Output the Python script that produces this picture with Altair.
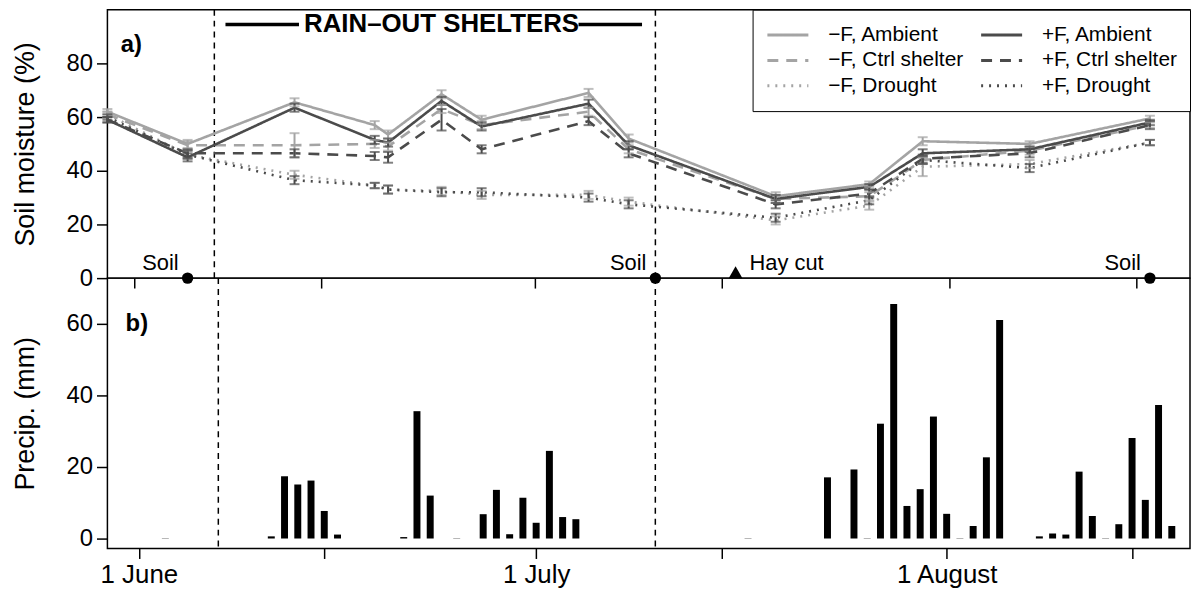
import altair as alt
import pandas as pd

FONT = "Liberation Sans"

# ---------------- soil moisture (panel a) ----------------
sm_dates = ["2011-05-30", "2011-06-05", "2011-06-13", "2011-06-19", "2011-06-20",
            "2011-06-24", "2011-06-27", "2011-07-05", "2011-07-08", "2011-07-19",
            "2011-07-26", "2011-07-30", "2011-08-07", "2011-08-16"]

# legend fills column by column: first column = −F, second = +F
series_labels = ["−F, Ambient", "−F, Ctrl shelter", "−F, Drought",
                 "+F, Ambient", "+F, Ctrl shelter", "+F, Drought"]
series_colors = ["#a4a4a4", "#a4a4a4", "#a4a4a4", "#4b4b4b", "#4b4b4b", "#4b4b4b"]
series_dash = [[1, 0], [11, 8], [2, 6], [1, 0], [11, 8], [2, 6]]

mF_ambient = [62, 50, 65.5, 57, 53.5, 68.5, 59, 69, 52, 30.5, 35, 51, 50, 59.5]
mF_ctrl = [61, 49.5, 49.5, 50, 49, 63, 57, 62, 48, 29.5, 30.5, 44, 47.5, 57]
mF_drought = [61, 46, 38.5, 34.5, 33, 32.5, 31, 31, 28.5, 21.5, 27, 41.5, 42.5, 50.5]
pF_ambient = [59, 45, 63.5, 51.5, 50.5, 66, 56.5, 65, 49.5, 29.5, 34, 46.5, 48, 58]
pF_ctrl = [59, 46.5, 46.5, 45.5, 45, 59, 48, 58.5, 46.5, 27.5, 31.5, 44.5, 46.5, 57]
pF_drought = [60, 46, 36.5, 34.5, 33, 32, 32, 30, 27.5, 22.5, 29, 44, 41, 50.5]

mF_ambient_se = [1, 1.5, 1.5, 1.5, 1.5, 1.5, 1.5, 1.5, 1.5, 1.5, 1, 1.5, 1, 1]
mF_ctrl_se = [1, 1.5, 4.5, 1.5, 1.5, 1.5, 1.5, 1.5, 1.5, 1.5, 1.5, 1.5, 1.5, 1]
mF_drought_se = [1, 1.5, 1.5, 1, 1.5, 1.5, 1.5, 1.5, 1.5, 1.5, 1.5, 3.5, 1.5, 1]
pF_ambient_se = [1, 1.5, 1.5, 1.5, 1.5, 1.5, 1.5, 1.5, 1.5, 1.5, 1, 1.5, 1, 1]
pF_ctrl_se = [1, 1.5, 1.5, 1.5, 2, 4, 1.5, 1.5, 1.5, 1.5, 1.5, 1.5, 1.5, 1.5]
pF_drought_se = [1, 1.5, 1.5, 1, 1.5, 1.5, 1.5, 1.5, 1.5, 1.5, 1.5, 1.5, 1.5, 1]

series_values = [mF_ambient, mF_ctrl, mF_drought, pF_ambient, pF_ctrl, pF_drought]
series_se = [mF_ambient_se, mF_ctrl_se, mF_drought_se, pF_ambient_se, pF_ctrl_se, pF_drought_se]

# ---------------- precipitation (panel b) ----------------
precip_dates = ["2011-06-11", "2011-06-12", "2011-06-13", "2011-06-14", "2011-06-15",
                "2011-06-16", "2011-06-21", "2011-06-22", "2011-06-23", "2011-06-27",
                "2011-06-28", "2011-06-29", "2011-06-30", "2011-07-01", "2011-07-02",
                "2011-07-03", "2011-07-04", "2011-07-23", "2011-07-25", "2011-07-27",
                "2011-07-28", "2011-07-29", "2011-07-30", "2011-07-31", "2011-08-01",
                "2011-08-03", "2011-08-04", "2011-08-05", "2011-08-08", "2011-08-09",
                "2011-08-10", "2011-08-11", "2011-08-12", "2011-08-14", "2011-08-15",
                "2011-08-16", "2011-08-17", "2011-08-18"]
precip_mm = [0.6, 17.4, 15.1, 16.2, 7.7, 1.1, 0.4, 35.6, 12.0, 6.8,
             13.6, 1.2, 11.4, 4.4, 24.5, 6.0, 5.4, 17.1, 19.3, 32.1,
             65.6, 9.1, 13.8, 34.1, 6.9, 3.5, 22.7, 61.1, 0.6, 1.4,
             1.1, 18.7, 6.3, 4.0, 28.1, 10.8, 37.3, 3.5]
zero_rain_dates = ["2011-06-03", "2011-06-25", "2011-07-17", "2011-07-26",
                   "2011-08-02", "2011-08-13"]

# ---------------- annotations ----------------
shelter_dates = ["2011-06-07", "2011-07-10"]
shelter_text = ["RAIN–OUT SHELTERS"]
shelter_text_date = ["2011-06-24"]
shelter_line_start = ["2011-06-07 20:00", "2011-07-04 06:00"]
shelter_line_end = ["2011-06-13 08:00", "2011-07-09 00:00"]
shelter_y = 94.5
soil_dates = ["2011-06-05", "2011-07-10", "2011-08-16"]
soil_labels = ["Soil", "Soil", "Soil"]
haycut_dates = ["2011-07-16"]
haycut_labels = ["Hay cut"]
event_label_y = 5.5
panel_label_date = "2011-05-31"

x_tick_dates = ["2011-06-01", "2011-06-15", "2011-07-01", "2011-07-15",
                "2011-08-01", "2011-08-15"]
x_tick_labels = ["1 June", "", "1 July", "", "1 August", ""]
sm_ticks = [0, 20, 40, 60, 80]
pr_ticks = [0, 20, 40, 60]

# ---------------- tables ----------------
rows = []
for lab, vals, ses in zip(series_labels, series_values, series_se):
    for d, v, s in zip(sm_dates, vals, ses):
        rows.append({"date": pd.Timestamp(d), "series": lab, "value": v,
                     "lo": v - s, "hi": v + s})
sm_df = pd.DataFrame(rows)

pr_df = pd.DataFrame({"date": pd.to_datetime(precip_dates), "mm": precip_mm})
zero_df = pd.DataFrame({"date": pd.to_datetime(zero_rain_dates), "mm": 0.0})
shelter_df = pd.DataFrame({"date": pd.to_datetime(shelter_dates)})
seg_df = pd.DataFrame({"start": pd.to_datetime(shelter_line_start),
                       "end": pd.to_datetime(shelter_line_end), "y": shelter_y})
stext_df = pd.DataFrame({"date": pd.to_datetime(shelter_text_date),
                         "label": shelter_text, "y": shelter_y})
soil_df = pd.DataFrame({"date": pd.to_datetime(soil_dates), "label": soil_labels,
                        "y": 0.0, "ty": event_label_y})
hay_df = pd.DataFrame({"date": pd.to_datetime(haycut_dates), "label": haycut_labels,
                       "y": 2.2, "ty": event_label_y})
pa_df = pd.DataFrame({"date": [pd.Timestamp(panel_label_date)], "label": ["a)"], "y": [87.0]})
pb_df = pd.DataFrame({"date": [pd.Timestamp(panel_label_date)], "label": ["b)"], "y": [60.0]})


def dt(s):
    t = pd.Timestamp(s)
    return alt.DateTime(year=t.year, month=t.month, date=t.day)


x_domain = [dt("2011-05-30"), dt("2011-08-19")]
x_scale = alt.Scale(domain=x_domain, nice=False)
tick_values = [dt(d) for d in x_tick_dates]

label_expr = "''"
for d, lab in reversed(list(zip(x_tick_dates, x_tick_labels))):
    key = pd.Timestamp(d).strftime("%m-%d")
    label_expr = f"timeFormat(datum.value, '%m-%d') == '{key}' ? '{lab}' : ({label_expr})"

x_top_axis = alt.Axis(values=tick_values, labels=False, title=None, tickSize=10,
                      tickWidth=1.5, tickColor="black", domain=False, grid=False)
x_bot_axis = alt.Axis(values=tick_values, labelExpr=label_expr, title=None, tickSize=10,
                      tickWidth=1.5, tickColor="black", domain=False, grid=False,
                      labelFontSize=26, labelPadding=3, labelColor="black",
                      labelFont=FONT, labelFlush=False, labelOverlap=False)


def y_axis(title, values):
    return alt.Axis(values=values, title=title, tickSize=11, tickWidth=1.5,
                    tickColor="black", domain=False, grid=False, labelFontSize=24,
                    labelColor="black", labelFont=FONT, labelPadding=4,
                    titleFontSize=27, titleFont=FONT, titleFontWeight="normal",
                    titleColor="black", titlePadding=27)


y_sm = alt.Y("value:Q", scale=alt.Scale(domain=[0, 100], nice=False),
             axis=y_axis("Soil moisture (%)", sm_ticks))
x_sm = alt.X("date:T", scale=x_scale, axis=x_top_axis)

legend = alt.Legend(orient="top-right", offset=0, columns=2, title=None,
                    symbolType="stroke", symbolSize=1700, symbolStrokeWidth=3,
                    labelFontSize=21, labelFont=FONT, labelColor="black",
                    labelOffset=18, labelLimit=400, strokeColor="black",
                    fillColor="white", padding=13, rowPadding=0.5, columnPadding=16,
                    clipHeight=25, cornerRadius=0)
color_enc = alt.Color("series:N", scale=alt.Scale(domain=series_labels, range=series_colors),
                      legend=legend, sort=series_labels)
dash_enc = alt.StrokeDash("series:N", scale=alt.Scale(domain=series_labels, range=series_dash),
                          legend=legend, sort=series_labels)
color_nolegend = alt.Color("series:N", scale=alt.Scale(domain=series_labels, range=series_colors),
                           legend=None)

base_sm = alt.Chart(sm_df)
err_rule = base_sm.mark_rule(strokeWidth=2).encode(
    x=x_sm, y=alt.Y("lo:Q", scale=alt.Scale(domain=[0, 100], nice=False),
                    axis=y_axis("Soil moisture (%)", sm_ticks)),
    y2="hi:Q", color=color_nolegend)
cap_lo = base_sm.mark_tick(orient="horizontal", size=10, thickness=2).encode(
    x=x_sm, y="lo:Q", color=color_nolegend)
cap_hi = base_sm.mark_tick(orient="horizontal", size=10, thickness=2).encode(
    x=x_sm, y="hi:Q", color=color_nolegend)
lines = base_sm.mark_line(strokeWidth=2.6).encode(
    x=x_sm, y=y_sm, color=color_enc, strokeDash=dash_enc)

vlines_a = alt.Chart(shelter_df).mark_rule(strokeDash=[6, 5], strokeWidth=1.5, color="black").encode(
    x=alt.X("date:T", scale=x_scale))
segs = alt.Chart(seg_df).mark_rule(strokeWidth=3.5, color="black").encode(
    x=alt.X("start:T", scale=x_scale), x2="end:T", y="y:Q")
stext = alt.Chart(stext_df).mark_text(fontSize=26, fontWeight="bold", font=FONT,
                                      color="black", baseline="middle").encode(
    x=alt.X("date:T", scale=x_scale), y="y:Q", text="label:N")
soil_pts = alt.Chart(soil_df).mark_point(shape="circle", filled=True, size=130, color="black",
                                         opacity=1).encode(
    x=alt.X("date:T", scale=x_scale), y="y:Q")
soil_txt = alt.Chart(soil_df).mark_text(fontSize=22, font=FONT, color="black", align="right",
                                        baseline="middle", dx=-9).encode(
    x=alt.X("date:T", scale=x_scale), y="ty:Q", text="label:N")
hay_pts = alt.Chart(hay_df).mark_point(shape="triangle-up", filled=True, size=190, color="black",
                                       opacity=1).encode(
    x=alt.X("date:T", scale=x_scale), y="y:Q")
hay_txt = alt.Chart(hay_df).mark_text(fontSize=22, font=FONT, color="black", align="left",
                                      baseline="middle", dx=14).encode(
    x=alt.X("date:T", scale=x_scale), y="ty:Q", text="label:N")
pa_txt = alt.Chart(pa_df).mark_text(fontSize=24, fontWeight="bold", font=FONT, color="black",
                                    align="left", baseline="middle").encode(
    x=alt.X("date:T", scale=x_scale), y="y:Q", text="label:N")

top = alt.layer(vlines_a, segs, stext, lines, err_rule, cap_lo, cap_hi,
                soil_pts, soil_txt, hay_pts, hay_txt, pa_txt).properties(width=1089, height=270)

# ---------------- bottom ----------------
y_pr_scale = alt.Scale(domain=[-2.8, 72.8], nice=False, zero=False)
x_pr = alt.X("date:T", scale=x_scale, axis=x_bot_axis)
bars = alt.Chart(pr_df).mark_bar(size=7, color="black").encode(
    x=x_pr, y=alt.Y("mm:Q", scale=y_pr_scale, axis=y_axis("Precip. (mm)", pr_ticks)))
zeros = alt.Chart(zero_df).mark_tick(orient="horizontal", size=7, thickness=1, color="#999999").encode(
    x=x_pr, y=alt.Y("mm:Q", scale=y_pr_scale))
vlines_b = alt.Chart(shelter_df).mark_rule(strokeDash=[6, 5], strokeWidth=1.5, color="black").encode(
    x=x_pr)
pb_txt = alt.Chart(pb_df).mark_text(fontSize=24, fontWeight="bold", font=FONT, color="black",
                                    align="left", baseline="middle").encode(
    x=x_pr, y=alt.Y("y:Q", scale=y_pr_scale), text="label:N")

bottom = alt.layer(vlines_b, bars, zeros, pb_txt).properties(width=1089, height=272)

chart = alt.vconcat(top, bottom, spacing=0, bounds="flush").properties(
    padding={"left": 2, "top": -2, "right": 0, "bottom": 0}
).configure_view(stroke="black", strokeWidth=1.5)

chart.save("out.html", embed_options={"renderer": "svg", "actions": False})
